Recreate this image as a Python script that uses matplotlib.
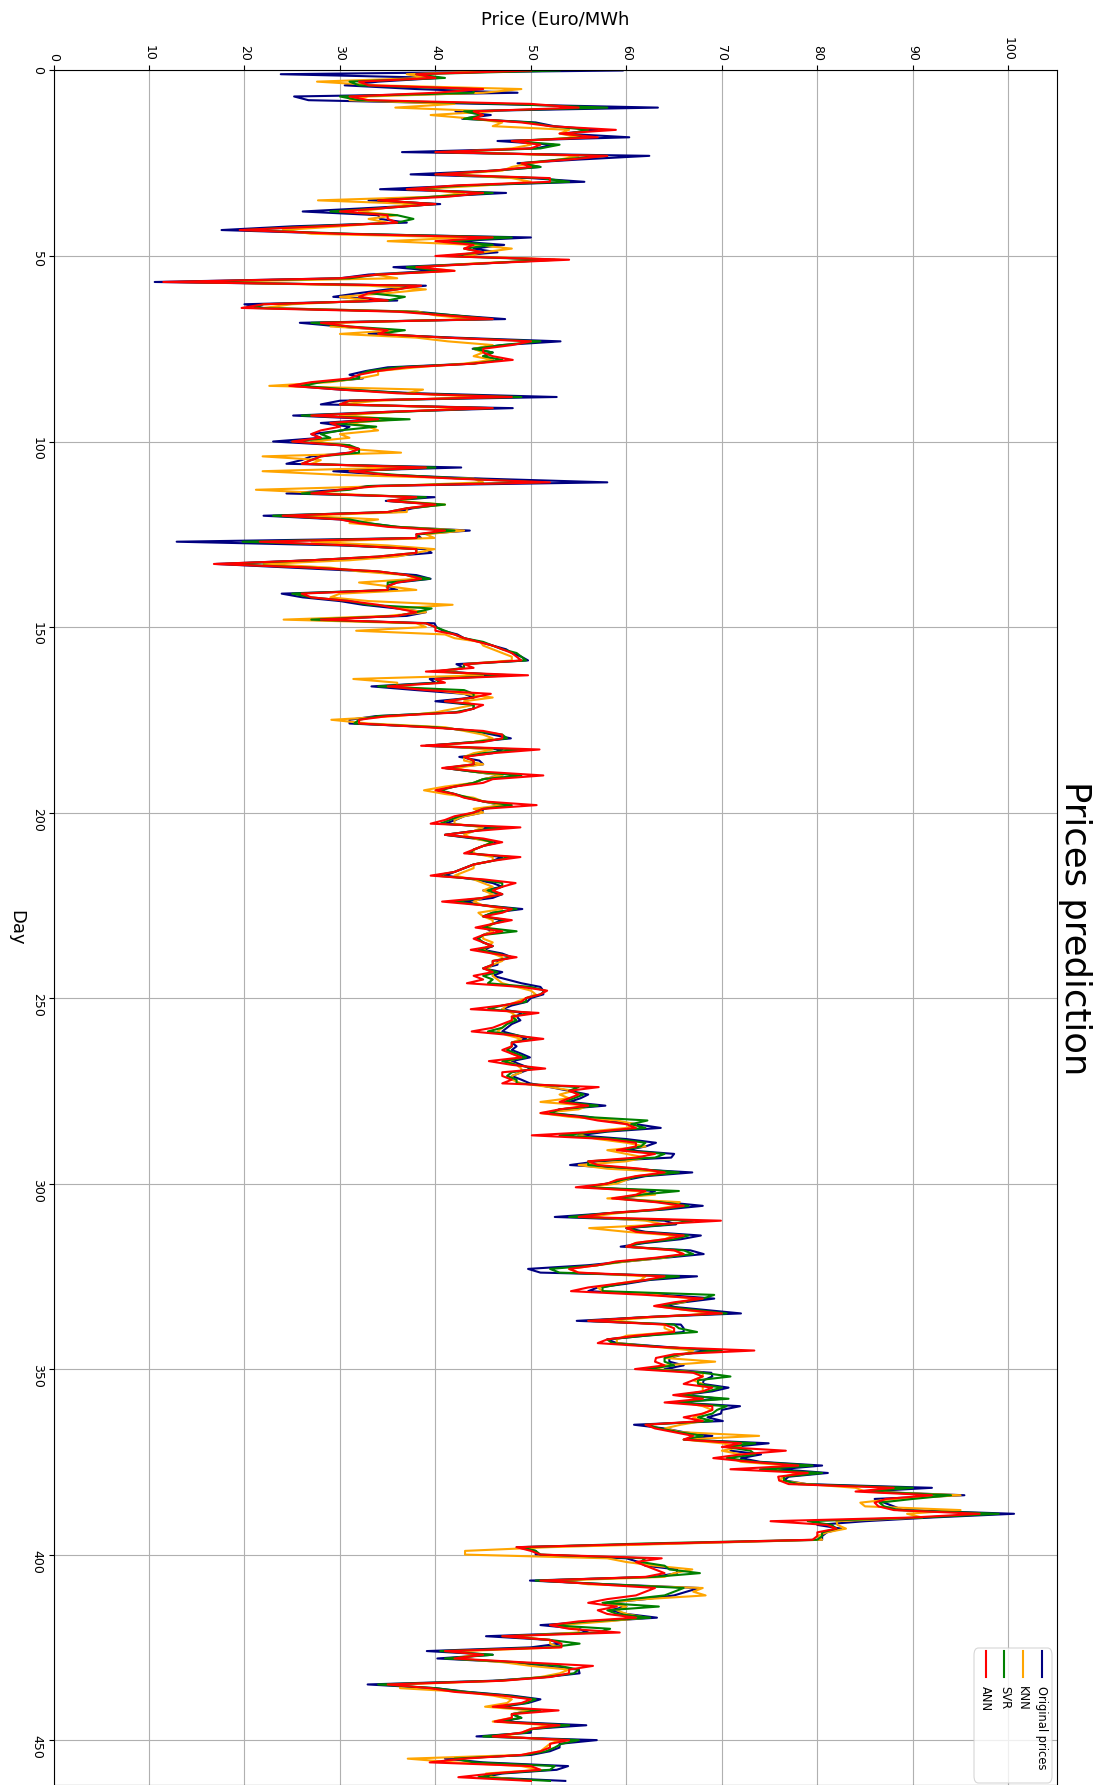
import matplotlib
matplotlib.use("Agg")
import matplotlib.pyplot as plt
import numpy as np
from matplotlib.patches import FancyBboxPatch
from matplotlib.lines import Line2D

# valeurs (une valeur par jour, jour 0 a 461)
original = [
    59.6, 23.8, 40.5, 34, 30.5, 38, 48.6, 25.2, 26.7, 45,
    63.3, 42.1, 45.8, 42.8, 50.5, 52.4, 57, 53.3, 60.3, 46.5,
    52.4, 50.5, 36.5, 62.4, 55, 48.6, 51, 46, 37.4, 50,
    55.6, 43, 34.2, 47.4, 40, 33, 40.5, 33.5, 26.1, 34,
    34.2, 37, 25, 17.6, 30, 50, 42, 47.2, 44, 46.5,
    42, 52.5, 45, 35.6, 40, 33, 30, 10.6, 39, 35,
    32, 29.3, 36, 20, 22, 38, 42, 47.3, 25.8, 30,
    35, 33, 42, 53.1, 47, 43.9, 46, 45, 46, 44,
    35, 32.7, 31, 32.4, 28, 25, 30, 38, 52.7, 30,
    28, 48.1, 35, 25.1, 34, 28, 31, 30.3, 27, 28,
    23, 30, 32, 31, 27, 26, 24.4, 42.7, 29.3, 35,
    45, 58, 33, 30, 24.4, 39.9, 34.8, 40.5, 37.6, 36,
    22, 30, 32.8, 36, 43.6, 38, 38.5, 12.9, 30, 39,
    39.6, 35, 27, 17, 25, 33, 38, 39.5, 36, 34.8,
    36, 23.9, 26.1, 30, 32.4, 36, 39, 37, 25.9, 39.9,
    40.1, 40.8, 42.3, 43, 44.6, 46, 47.4, 48, 49, 49.7,
    42.2, 43, 41, 47, 39.4, 40, 33.3, 38, 43, 44,
    40, 44, 44, 42.2, 33.8, 31, 31, 40, 44, 46,
    47.9, 44, 39, 47, 46, 42.5, 44.6, 45, 41, 44,
    47, 45, 44, 42, 40.2, 42, 43.2, 45, 46.9, 45,
    44.9, 43, 42.1, 41, 46, 44, 41, 44, 46.7, 45,
    44, 43.7, 47, 46, 44, 43, 42, 41, 44, 46,
    47, 45, 47, 46, 43, 45, 49.1, 46, 45, 47,
    46, 45, 46, 45, 44.4, 45, 46, 45, 47, 48,
    46.5, 46.5, 45, 47, 46, 47.5, 49, 51, 51.3, 51.3,
    50, 49.6, 48, 47, 49, 48.5, 48.9, 48, 47.5, 47,
    48.5, 49.5, 48, 48.5, 48, 49, 49.9, 48, 49, 50,
    49, 48, 49, 49.9, 52, 54, 56, 55.2, 54, 57.8,
    53, 52, 56, 58, 61, 63.6, 58, 55, 60, 63.1,
    62, 60, 65, 64.7, 57, 54.1, 60, 66.9, 62, 60,
    58, 56, 63, 62, 59, 64, 68, 64, 58, 52.5,
    64, 65.2, 60, 62, 67.8, 65.7, 62, 59.4, 66.7, 68.1,
    64, 60, 56, 49.7, 51, 67.4, 62.4, 60, 57, 56,
    64, 69.2, 66, 64, 68, 72, 62, 54.8, 65.7, 66,
    66, 62, 58, 59, 64, 68.7, 66, 64.5, 64.5, 66,
    64, 68.9, 69, 68.1, 68, 70.7, 69, 66, 70, 65.1,
    71.9, 70, 69.9, 68.5, 70.1, 60.8, 64, 66, 69, 66.1,
    74.9, 71, 70.9, 74.1, 72, 74, 80.5, 76, 81.1, 77,
    76.5, 78.9, 92, 85, 95.4, 86, 87, 88, 89, 100.6,
    92, 85, 80, 82.5, 81, 80.5, 80.5, 65, 48.5, 50.5,
    50.5, 60, 61.3, 62, 65.3, 65.3, 63, 49.9, 58, 67.6,
    66.3, 65, 62, 58, 60, 58.3, 60, 63.2, 57, 51,
    55, 56, 45.3, 52, 53, 50, 39.1, 46, 40.2, 48,
    51, 55, 55.1, 51.6, 46, 32.9, 40, 43.4, 48, 51,
    49.7, 47, 50, 48, 49, 47, 55.8, 50, 50, 44.3,
    56.9, 53, 53, 52, 50, 41, 45, 53.9, 52.7, 47,
    45, 53.6,
]

knn = [
    48, 37, 39, 27.6, 34, 49, 45, 33, 31, 42,
    35.8, 46, 39.5, 44, 47, 46, 54, 53, 55, 49,
    50, 48, 42, 55, 53, 50, 48, 47, 41, 48,
    50, 45, 38, 43, 40, 27.7, 38, 35, 32, 36,
    33, 35, 30, 24, 27, 43, 35, 44, 48, 45,
    43, 53, 44, 38, 42, 33.7, 36, 15, 33, 39,
    35, 30, 33, 25, 22, 38.2, 40, 44, 30, 29,
    36, 30, 38, 41.3, 46, 44, 45, 44, 46, 43,
    38, 34, 34, 32, 29, 22.6, 38.7, 37, 45, 34,
    30, 44, 36, 30, 36, 31, 33, 34, 30, 31,
    27, 31, 31, 36.4, 21.9, 28, 27, 36, 21.9, 30,
    44, 45, 35, 21.2, 29, 38, 36, 41, 37, 37,
    26, 34, 31, 36, 43, 39, 39.9, 27, 35, 39.9,
    38, 36, 31, 22, 29, 32, 37, 38, 32, 35,
    38, 30, 29, 33, 41.8, 36, 39, 35, 24.1, 38,
    39, 31.7, 41, 42, 44.7, 45, 46, 47, 48, 48,
    43, 42.9, 41, 45, 31.4, 36, 36, 40, 43, 46,
    43, 44, 42, 40, 36, 29.1, 33, 41, 43, 45,
    46, 44, 40, 46, 44, 43, 43, 45, 42, 44,
    47, 45, 44, 41, 38.8, 41, 44, 45, 47, 44,
    45, 43, 42, 42, 45, 44, 43, 44, 46, 45,
    44, 44, 46, 46, 44, 44, 43, 42, 44, 45,
    46, 45, 46, 45, 44, 45, 47, 44.5, 45, 46,
    46, 45.5, 46, 45, 45, 46, 45.5, 45, 46, 47,
    47, 46, 45.5, 46, 46, 46.5, 47, 48.5, 50, 50.5,
    49.5, 48.5, 47.5, 47, 48, 48.5, 48, 47.5, 47, 46.5,
    47.5, 49, 48, 48, 47.5, 48, 49, 47.5, 48.5, 49,
    49, 48, 48, 49, 52, 54.5, 53, 54, 51, 56,
    55, 51, 54, 59, 61, 60, 56, 55, 57, 60,
    62, 58, 60, 62, 60, 55, 58, 65, 61, 60,
    59, 56, 61, 63, 58, 65.6, 65, 63, 59, 56,
    62, 64, 56.1, 60, 65, 64, 61, 60, 65, 66,
    64, 60, 57, 54, 55, 62, 61.5, 59, 57, 57.5,
    63, 67, 66, 63, 66, 69, 63, 58, 64, 64,
    65, 60, 59, 59, 63, 67, 66, 64, 69.3, 64,
    63, 68, 68, 67, 68, 68, 68, 66, 68, 66,
    68, 69, 68, 67, 68, 65.7, 64, 65.7, 73.9, 66,
    70, 72, 70, 72, 71, 72, 77, 75, 78, 76.5,
    76, 78.9, 84, 85, 95, 88, 84.5, 85, 95, 89.4,
    91, 82, 82.1, 83, 81, 80, 80.5, 66, 52, 43.1,
    43.1, 58, 60, 63, 66.9, 65, 64, 53, 56, 68,
    67, 68.3, 62, 57.9, 60, 59, 60, 62, 58, 53,
    55, 55, 48, 52, 52, 53, 43, 44, 42, 47,
    50, 54, 53, 51, 47, 36.3, 36.3, 43, 46, 48,
    47.5, 45.2, 50, 48, 48, 46, 52, 50, 49, 47,
    53, 52, 51.5, 51, 49, 37.1, 42, 49, 51, 45.3,
    46, 50,
]

svr = [
    53, 38, 41, 31, 32, 44, 44, 30, 32, 47,
    58, 43, 45, 43, 50, 52, 56, 54, 56, 48,
    53, 51, 40, 58, 53, 49, 51, 46, 40, 51,
    54, 43, 37, 46, 40, 34, 40, 35, 29, 36,
    37.7, 36, 27, 20, 31, 48, 41, 46, 43, 45,
    41, 52, 45, 37, 41, 34, 31, 13, 38, 36,
    33, 36.8, 35, 22, 21, 37, 42, 46, 27, 31,
    36.8, 34, 41, 51, 47, 44, 46, 45, 47, 44,
    36, 33, 32, 32, 28, 26, 31, 37, 49, 31,
    30, 46, 36, 26, 37.3, 29, 33.8, 30, 28, 29,
    25, 31, 32, 32, 28, 27, 26, 40, 31, 36,
    43, 51, 33, 31, 26, 39, 35, 41, 37, 35,
    23, 31, 33, 36, 42, 38.3, 38, 19.8, 31, 38,
    38, 34, 27, 18, 27, 34, 37, 39.4, 35, 35,
    35, 25, 27, 31, 33, 39.6, 38, 36, 27, 39,
    40, 41, 42, 43, 45, 46, 47, 48.5, 49, 49.5,
    43, 43, 40, 48, 40, 40.5, 34, 43, 44, 44,
    41, 44, 44, 42, 34, 32, 31.5, 40, 44, 47,
    47.5, 44, 39, 49, 45, 43, 44, 44, 41, 44,
    49, 45, 44, 42, 40.5, 42, 43.5, 45, 48, 45,
    44, 42.5, 41.5, 40.5, 47, 44, 41, 44.5, 46, 45,
    44, 43.5, 48, 46, 44, 43, 42, 40, 44.5, 47,
    47, 45.5, 47, 45, 42, 45, 48.5, 46, 45, 47.5,
    46, 45, 48.5, 45, 44.5, 45, 46, 44.5, 46.5, 48,
    46, 46, 45, 46.5, 45, 46, 45.5, 50, 51.5, 51,
    49.5, 49.5, 47, 45.5, 50, 48, 48.5, 47.5, 47, 45.5,
    48.5, 50.5, 48, 48, 47.5, 48.5, 49.5, 47, 48.5, 50.5,
    48, 47.5, 48.5, 48.5, 55, 54, 55.5, 54.5, 53.5, 57,
    53, 52, 55.5, 62.2, 60.5, 62, 57.5, 53, 59, 62,
    61.5, 59.5, 64, 63, 56, 56, 61, 65.5, 61.5, 59.5,
    58, 55.5, 65.5, 61.5, 59, 63.5, 66.5, 63.5, 58, 54,
    67, 64.5, 60, 61.5, 66.5, 65, 61.5, 60, 66, 67,
    63.5, 59.5, 57, 52, 53, 65.5, 62, 59.5, 57.5, 57.5,
    69.2, 68, 65.5, 63.5, 67, 70.5, 62, 56, 65, 65.5,
    67.4, 62, 58, 58.5, 63.5, 70, 65.5, 64, 64, 65,
    62, 68, 70.9, 67.5, 67.5, 70, 68.5, 65.5, 70.7, 65,
    70.5, 69.5, 69, 67.5, 69, 62, 63.5, 65.5, 68, 66,
    73.5, 70.5, 73, 73.5, 70.5, 73.5, 79.5, 74, 80.5, 76.5,
    76.5, 78, 90, 85, 94, 90, 86.5, 87, 88.5, 99,
    91, 79, 81.5, 82, 80.5, 80.5, 80, 62, 49, 50.5,
    51, 62, 61.5, 64, 64.5, 67.7, 63, 50.5, 58, 66,
    65, 64, 60.5, 57.5, 63.4, 58, 59, 62.5, 56, 52,
    58.3, 57, 47, 52, 55.1, 52, 40.5, 46, 41, 48.5,
    53, 55, 54.5, 51.5, 46.5, 34, 40, 43, 47.5, 50.5,
    49.5, 46.5, 51, 48, 49, 46.5, 54, 50.2, 49.5, 45,
    55, 53.2, 52.5, 51.6, 49.5, 42, 44, 52.5, 52, 46.5,
    44.5, 52,
]

ann = [
    50, 38, 40, 32, 33, 45, 40, 31, 33, 50,
    55, 44, 45, 44, 49, 52, 58.9, 53, 57, 48,
    51, 50, 40, 58, 54, 49, 50, 46, 40, 52,
    52, 42, 37, 45, 41.4, 34, 40, 35, 30, 35,
    35, 36, 28, 19.5, 30, 46, 40, 44, 43, 45,
    40, 54, 45, 38, 42, 34, 30, 11.5, 38.5, 36,
    33, 32, 35, 22, 19.7, 36, 41, 46, 28, 31,
    35, 34, 41, 50, 48, 45, 45, 46, 48.1, 44,
    37, 34, 32, 31, 27, 24.7, 30, 36, 48, 31,
    30, 46, 35, 27, 34, 29, 30, 28, 27, 28,
    25, 30, 32, 31, 28, 27, 26, 39, 31, 35,
    42, 52, 34, 30, 27, 38, 35, 40, 37, 35,
    24, 30, 32, 35, 41, 38, 38, 21.6, 31, 38,
    38, 34, 27, 16.8, 27, 34, 37, 38.5, 36, 35,
    35, 26, 27, 31, 34, 36, 38, 36, 28, 39,
    40, 40, 42, 43, 44.5, 46, 47, 48, 48.5, 49,
    43, 44, 39, 49.7, 40, 41, 35, 39, 45.8, 44,
    41, 45, 44, 42.5, 35, 32, 32, 39, 45, 47,
    47, 45, 38.5, 50.9, 46, 43, 44, 44, 40.7, 45,
    51.3, 46, 45, 42, 40, 42, 43, 45, 50.6, 45,
    44, 42, 41, 39.5, 48.9, 44, 41, 45, 47, 45,
    44, 43, 48.9, 46, 44, 43, 42, 39.5, 45, 48.4,
    47, 46, 47, 45, 40.7, 45, 48, 47, 45, 48,
    46, 44.2, 47, 45, 44, 45, 46, 43.7, 46, 48.5,
    46, 46, 45, 46, 44, 45, 43.3, 49, 51.7, 51,
    49.5, 49, 47, 43.7, 50.8, 48, 48, 47, 46, 43.8,
    48, 51.3, 48, 48, 47, 48, 49, 45.6, 48, 51.5,
    47, 47, 48, 47, 57.1, 54, 55, 54, 53, 56,
    53, 51, 55, 57, 60, 61, 57, 50.1, 58, 61,
    61, 59, 63, 61, 56, 57, 61.5, 64, 61, 59,
    58, 54.7, 62, 61, 58.5, 63, 66, 63, 58, 55,
    69.9, 63, 60, 61, 66, 64, 61, 60, 65, 66,
    63, 58.9, 57, 54, 55, 64, 62, 59, 56, 54.2,
    62, 68, 65, 62.9, 66, 70, 62, 56, 64, 65,
    65, 61, 58, 57, 63, 73.4, 65, 63.1, 63, 64,
    60.9, 67, 68, 67, 66, 69, 68, 64.9, 68, 64,
    69, 69, 68, 66, 68, 62, 63, 65, 67, 66,
    72, 70, 76.7, 72, 69.1, 73, 78, 70.9, 79, 75.9,
    76, 77, 88, 84, 92, 87.2, 86, 86.4, 88, 97,
    90, 75.1, 81, 82, 80, 80, 79.5, 64, 48.5, 50,
    51, 63.7, 61, 62, 63, 64, 62, 51, 57, 63,
    62, 61, 58, 56, 59, 57, 58, 61, 55, 52,
    54, 59.3, 47, 52, 53.2, 53.2, 41, 45, 42, 49,
    56.5, 54, 54, 52, 47, 35, 39.4, 42, 47, 50,
    49, 46, 52.9, 48, 48, 46.2, 53, 50, 49, 46,
    54, 52, 52, 51, 49, 43, 39.4, 50, 51, 46,
    42.4, 50,
]

series_names = ["Original prices", "KNN", "SVR", "ANN"]
series_colors = ["navy", "orange", "green", "red"]
price_ticks = list(range(0, 101, 10))
day_ticks = list(range(0, 451, 50))

# taille de la figure en pixels
W, H = 1105, 1785
fig = plt.figure(figsize=(W / 100, H / 100), dpi=100)

# graphique tourne de 90 degres : jours vers le bas, prix vers la droite
ax_left, ax_right, ax_top = 53.5, 1057, 70.5
ax = fig.add_axes([ax_left / W, 0, (ax_right - ax_left) / W, 1 - ax_top / H])

for vals, col in zip([original, knn, svr, ann], series_colors):
    ax.plot(vals, np.arange(len(vals)), color=col, lw=1.5)

ax.set_xlim(0, 105.1)
ax.set_ylim(462.1, 0)
ax.set_xticks(price_ticks)
ax.set_yticks(day_ticks)
ax.xaxis.tick_top()
ax.tick_params(axis="x", labelrotation=270, labelsize=9)
ax.tick_params(axis="y", labelrotation=270, labelsize=9)
ax.grid(True, color="#b0b0b0", lw=0.8)

# textes (tournes comme l'image)
ax.xaxis.set_label_position("top")
ax.set_xlabel("Price (Euro/MWh", fontsize=13)
ax.xaxis.set_label_coords(0.5, 1 + (ax_top - 20) / (H - ax_top))
ax.xaxis.label.set_va("center")
ax.set_ylabel("Day", fontsize=13, rotation=270)
ax.yaxis.set_label_coords((16 - ax_left) / (ax_right - ax_left), 0.5)
ax.yaxis.label.set_va("center")
ax.yaxis.label.set_ha("center")
ax.text((1075 - ax_left) / (ax_right - ax_left), 0.5, "Prices prediction",
        transform=ax.transAxes, rotation=270, fontsize=25.5,
        ha="center", va="center")

# legende dessinee a la main (texte vertical)
def fx(px):
    return px / W

def fy(py):
    return 1 - py / H

box = FancyBboxPatch((fx(974), fy(1783)), fx(1052) - fx(974), fy(1648) - fy(1783),
                     boxstyle="round,pad=0,rounding_size=0.004",
                     transform=fig.transFigure, facecolor="white", alpha=0.8,
                     edgecolor="#cccccc", lw=0.8)
fig.patches.append(box)
leg_x = [1041.7, 1022.7, 1004.3, 985.7]
for x, name, col in zip(leg_x, series_names, series_colors):
    fig.add_artist(Line2D([fx(x), fx(x)], [fy(1651), fy(1677)],
                          transform=fig.transFigure, color=col, lw=1.5))
    fig.text(fx(x), fy(1686), name, rotation=270, rotation_mode="anchor",
             ha="left", va="center", fontsize=8.3)

fig.savefig("out.png", dpi=100)
